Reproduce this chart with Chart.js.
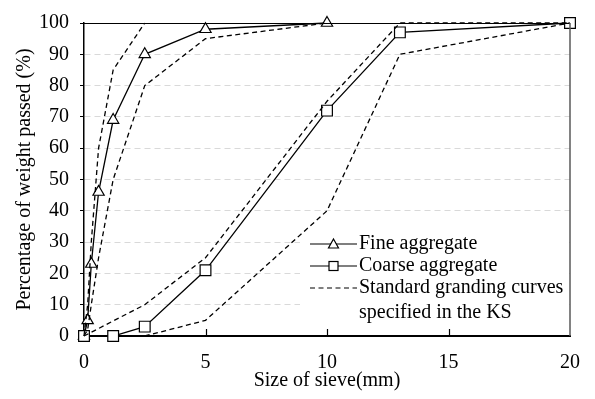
<!DOCTYPE html>
<html>
<head>
<meta charset="utf-8">
<script src="https://cdn.jsdelivr.net/npm/chart.js@4/dist/chart.umd.min.js"></script>
<style>
html, body { margin: 0; padding: 0; background: #fff; }
</style>
</head>
<body>
<canvas id="gradingChart" width="595" height="399"></canvas>
<script>
// sieve sizes (mm) and percentage passed
const sieveFine = [0, 0.15, 0.3, 0.6, 1.2, 2.5, 5, 10];
const passFine = [0, 5, 23, 46, 69, 90, 98, 100];

const sieveCoarse = [0, 1.2, 2.5, 5, 10, 13, 20];
const passCoarse = [0, 0, 3, 21, 72, 97, 100];

// KS standard grading limits
const sieveKsFineLow = [0, 0.15, 0.3, 0.6, 1.2, 2.5, 5, 10];
const passKsFineLow = [0, 2, 10, 25, 50, 80, 95, 100];
const sieveKsFineHigh = [0, 0.15, 0.3, 0.6, 1.2, 2.5];
const passKsFineHigh = [0, 10, 30, 60, 85, 100];
const sieveKsCoarseHigh = [0, 2.5, 5, 10, 13, 20];
const passKsCoarseHigh = [0, 10, 25, 75, 100, 100];
const sieveKsCoarseLow = [2.5, 5, 10, 13, 20];
const passKsCoarseLow = [0, 5, 40, 90, 100];

const xTicks = [0, 5, 10, 15, 20];
const yTicks = [0, 10, 20, 30, 40, 50, 60, 70, 80, 90, 100];

const seriesNames = ["Fine aggregate", "Coarse aggregate", "Standard granding curves", "specified in the KS"];
const xTitle = "Size of sieve(mm)";
const yTitle = "Percentage of weight passed (%)";

const jFPairs = ({ inX, inY }) => inX.map((v, i) => ({ x: v, y: inY[i] }));

const serif = "'Liberation Serif', 'Times New Roman', serif";

let jFDashed = ({ inX, inY }) => ({
    label: seriesNames[2],
    data: jFPairs({ inX, inY }),
    borderColor: "#000",
    borderWidth: 1.3,
    borderDash: [5, 3.5],
    pointRadius: 0,
    fill: false,
    clip: false
});

const legendPlugin = {
    id: "boxLegend",
    beforeDatasetsDraw(chart) {
        const { ctx, chartArea } = chart;
        ctx.save();
        ctx.fillStyle = "#fff";
        ctx.fillRect(300, 237, chartArea.right - 300 - 1, chartArea.bottom - 237 - 1);
        ctx.restore();
    },
    afterDatasetsDraw(chart) {
        const { ctx, chartArea } = chart;
        const xs = chart.scales.x;
        ctx.save();
        // frame top and right
        ctx.strokeStyle = "#000";
        ctx.lineWidth = 1;
        ctx.beginPath();
        ctx.moveTo(chartArea.left, chartArea.top + 0.5);
        ctx.lineTo(chartArea.right, chartArea.top + 0.5);
        ctx.stroke();
        ctx.strokeStyle = "#595959";
        ctx.lineWidth = 1.5;
        ctx.beginPath();
        ctx.moveTo(chartArea.right, chartArea.top);
        ctx.lineTo(chartArea.right, chartArea.bottom);
        ctx.stroke();
        // inward tick marks on x axis
        ctx.strokeStyle = "#000";
        ctx.lineWidth = 1.2;
        xTicks.slice(1, -1).forEach(v => {
            const px = Math.round(xs.getPixelForValue(v)) + 0.5;
            ctx.beginPath();
            ctx.moveTo(px, chartArea.bottom);
            ctx.lineTo(px, chartArea.bottom - 7);
            ctx.stroke();
        });

        // legend
        const lx0 = 310, lx1 = 357, tx = 359;
        const rows = [244, 266, 288, 313];
        ctx.font = "20px " + serif;
        ctx.fillStyle = "#000";
        ctx.textBaseline = "middle";
        ctx.textAlign = "left";
        ctx.lineWidth = 1.2;
        ctx.strokeStyle = "#000";
        for (let i = 0; i < 3; i++) {
            ctx.setLineDash(i === 2 ? [5, 3.5] : []);
            ctx.beginPath();
            ctx.moveTo(lx0, rows[i]);
            ctx.lineTo(lx1, rows[i]);
            ctx.stroke();
        }
        ctx.setLineDash([]);
        const mx = (lx0 + lx1) / 2;
        ctx.fillStyle = "#fff";
        ctx.beginPath();
        ctx.moveTo(mx, rows[0] - 5);
        ctx.lineTo(mx + 5, rows[0] + 4);
        ctx.lineTo(mx - 5, rows[0] + 4);
        ctx.closePath();
        ctx.fill();
        ctx.stroke();
        ctx.fillRect(mx - 4.5, rows[1] - 4.5, 9, 9);
        ctx.strokeRect(mx - 4.5, rows[1] - 4.5, 9, 9);
        ctx.fillStyle = "#000";
        seriesNames.forEach((t, i) => ctx.fillText(t, tx, rows[i]));
        ctx.restore();
    }
};

const StartFunc = () => {
    const ctx = document.getElementById("gradingChart");
    const tickFont = { family: serif, size: 20, lineHeight: 1.2 };
    const titleFont = { family: serif, size: 20, lineHeight: 1.2 };

    new Chart(ctx, {
        type: "line",
        data: {
            datasets: [
                {
                    label: seriesNames[0],
                    data: jFPairs({ inX: sieveFine, inY: passFine }),
                    borderColor: "#000",
                    borderWidth: 1.3,
                    pointStyle: "triangle",
                    pointRadius: 6.5,
                    pointBackgroundColor: "#fff",
                    pointBorderColor: "#000",
                    pointBorderWidth: 1.2,
                    clip: false
                },
                {
                    label: seriesNames[1],
                    data: jFPairs({ inX: sieveCoarse, inY: passCoarse }),
                    borderColor: "#000",
                    borderWidth: 1.3,
                    pointStyle: "rect",
                    pointRadius: 7.6,
                    pointBackgroundColor: "#fff",
                    pointBorderColor: "#000",
                    pointBorderWidth: 1.2,
                    clip: false
                },
                jFDashed({ inX: sieveKsFineLow, inY: passKsFineLow }),
                jFDashed({ inX: sieveKsFineHigh, inY: passKsFineHigh }),
                jFDashed({ inX: sieveKsCoarseHigh, inY: passKsCoarseHigh }),
                jFDashed({ inX: sieveKsCoarseLow, inY: passKsCoarseLow })
            ].reverse()
        },
        options: {
            responsive: false,
            animation: false,
            devicePixelRatio: 1,
            layout: { padding: { top: 16, right: 19, left: 0, bottom: 0 } },
            plugins: {
                legend: { display: false },
                tooltip: { enabled: false }
            },
            elements: { line: { tension: 0 } },
            scales: {
                x: {
                    type: "linear",
                    min: 0,
                    max: 20,
                    afterBuildTicks: s => { s.ticks = xTicks.map(v => ({ value: v })); },
                    afterFit: s => { s.height = 63; },
                    ticks: { font: tickFont, color: "#000", padding: 15, maxRotation: 0 },
                    grid: { display: false, drawTicks: false },
                    border: { color: "#000", width: 2 },
                    title: { display: true, text: xTitle, font: titleFont, color: "#000", padding: { top: 0, bottom: 6 } }
                },
                y: {
                    min: 0,
                    max: 100,
                    afterBuildTicks: s => { s.ticks = yTicks.map(v => ({ value: v })); },
                    afterFit: s => { s.width = 84; },
                    ticks: { font: tickFont, color: "#000", padding: 11 },
                    grid: {
                        color: c => (c.tick && (c.tick.value === 0 || c.tick.value === 100)) ? "rgba(0,0,0,0)" : "#d9d9d9",
                        lineWidth: 1,
                        drawTicks: true,
                        tickLength: 4,
                        tickColor: "#000",
                        tickBorderDash: [],
                        tickWidth: 1
                    },
                    border: { color: "#000", width: 1.5, dash: [6, 4] },
                    title: { display: true, text: yTitle, font: titleFont, color: "#000", padding: { top: 13, bottom: 0 } }
                }
            }
        },
        plugins: [legendPlugin]
    });
};

StartFunc();
</script>
</body>
</html>
